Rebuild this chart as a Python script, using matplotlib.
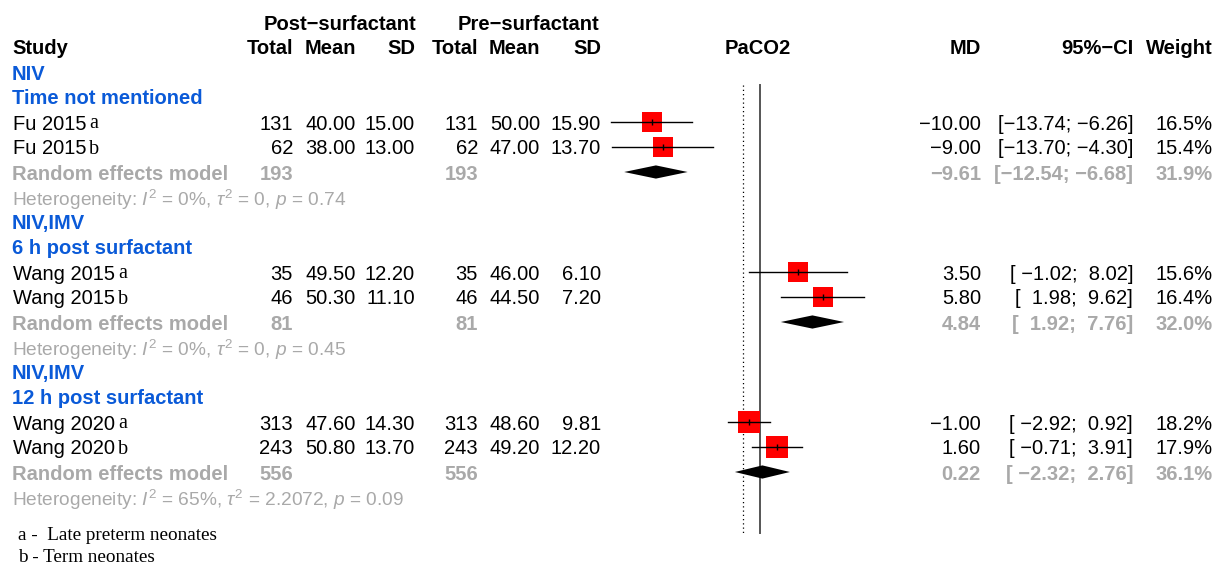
import matplotlib
matplotlib.use("Agg")
import matplotlib.pyplot as plt
from matplotlib.patches import Polygon

# ---------------- data ----------------
study_names = ["Fu 2015", "Fu 2015", "Wang 2015", "Wang 2015", "Wang 2020", "Wang 2020"]
study_marks = ["a", "b", "a", "b", "a", "b"]
study_group = [0, 0, 1, 1, 2, 2]
n_post = [131, 62, 35, 46, 313, 243]
mean_post = [40.00, 38.00, 49.50, 50.30, 47.60, 50.80]
sd_post = [15.00, 13.00, 12.20, 11.10, 14.30, 13.70]
n_pre = [131, 62, 35, 46, 313, 243]
mean_pre = [50.00, 47.00, 46.00, 44.50, 48.60, 49.20]
sd_pre = [15.90, 13.70, 6.10, 7.20, 9.81, 12.20]
md = [-10.00, -9.00, 3.50, 5.80, -1.00, 1.60]
ci_lo = [-13.74, -13.70, -1.02, 1.98, -2.92, -0.71]
ci_hi = [-6.26, -4.30, 8.02, 9.62, 0.92, 3.91]
weight = [16.5, 15.4, 15.6, 16.4, 18.2, 17.9]

group_label1 = ["NIV", "NIV,IMV", "NIV,IMV"]
group_label2 = ["Time not mentioned", "6 h post surfactant", "12 h post surfactant"]
re_total_post = [193, 81, 556]
re_total_pre = [193, 81, 556]
re_md = [-9.61, 4.84, 0.22]
re_lo = [-12.54, 1.92, -2.32]
re_hi = [-6.68, 7.76, 2.76]
re_weight = [31.9, 32.0, 36.1]
het_i2 = ["0%", "0%", "65%"]
het_tau2 = ["0", "0", "2.2072"]
het_p = ["0.74", "0.45", "0.09"]
overall_md = -1.54

footnotes = ["a -  Late preterm neonates", "b - Term neonates"]

# ---------------- style ----------------
SANS = "Liberation Sans"
SERIF = "Liberation Serif"
plt.rcParams["font.family"] = [SANS, "DejaVu Sans"]
plt.rcParams["mathtext.fontset"] = "custom"
plt.rcParams["mathtext.rm"] = SANS
plt.rcParams["mathtext.it"] = SANS + ":italic"
FS = 14.5
FS_HET = 13.8
FS_FOOT = 13.8
BLUE = "#0a5ad8"
GRAY = "#a9a9a9"

W, H = 1221, 568
fig = plt.figure(figsize=(W / 100, H / 100), dpi=100)
ax = fig.add_axes([0, 0, 1, 1])
ax.set_xlim(0, W)
ax.set_ylim(H, 0)
ax.axis("off")

# forest panel: x in MD units
PX_PER_UNIT = 10.83
ZERO_PX = 760
F_LEFT, F_RIGHT = 600, 900
axf = fig.add_axes([F_LEFT / W, 0, (F_RIGHT - F_LEFT) / W, 1])
axf.set_xlim((F_LEFT - ZERO_PX) / PX_PER_UNIT, (F_RIGHT - ZERO_PX) / PX_PER_UNIT)
axf.set_ylim(H, 0)
axf.axis("off")
axf.patch.set_alpha(0)

ROW0 = 22
STEP = 25


def row_y(i):
    return ROW0 + STEP * i


# columns (right edges)
X_STUDY = 12
X_NPOST, X_MPOST, X_SPOST = 293, 356, 415
X_NPRE, X_MPRE, X_SPRE = 478, 540, 601
X_MD, X_CI, X_W = 981, 1133, 1213
X_PLOT_LABEL = 758


def fnum(v, d=2):
    return f"{v:.{d}f}".replace("-", "\u2212")


def txt(x, y, s, ha="right", bold=False, color="black", size=FS, family=None):
    return ax.text(x, y, s, ha=ha, va="center_baseline", fontsize=size,
                   fontweight="bold" if bold else "normal", color=color,
                   family=family if family else [SANS, "DejaVu Sans"])


# CI string formatting (pad like meta)
lo_all = [fnum(v) for v in ci_lo + re_lo]
hi_all = [fnum(v) for v in ci_hi + re_hi]
wlo = max(len(s) for s in lo_all)
whi = max(len(s) for s in hi_all)


def ci_str(lo, hi):
    return "[" + fnum(lo).rjust(wlo) + "; " + fnum(hi).rjust(whi) + "]"


# headers
txt(340, row_y(0), "Post\u2212surfactant", ha="center", bold=True)
txt(528, row_y(0), "Pre\u2212surfactant", ha="center", bold=True)
txt(X_STUDY, row_y(1), "Study", ha="left", bold=True)
for x, s in [(X_NPOST, "Total"), (X_MPOST, "Mean"), (X_SPOST, "SD"),
             (X_NPRE, "Total"), (X_MPRE, "Mean"), (X_SPRE, "SD"),
             (X_MD, "MD"), (X_CI, "95%\u2212CI"), (X_W, "Weight")]:
    txt(x, row_y(1), s, bold=True)
txt(X_PLOT_LABEL, row_y(1), "PaCO2", ha="center", bold=True)

# body
r = 2
for g in range(len(group_label1)):
    txt(X_STUDY, row_y(r), group_label1[g], ha="left", bold=True, color=BLUE)
    r += 1
    txt(X_STUDY, row_y(r), group_label2[g], ha="left", bold=True, color=BLUE)
    r += 1
    for k in [i for i, gg in enumerate(study_group) if gg == g]:
        y = row_y(r)
        t = txt(X_STUDY + 1, y, study_names[k], ha="left")
        ax.annotate(study_marks[k], xy=(1, 0.5), xycoords=t, xytext=(2.0, 0),
                    textcoords="offset points", ha="left", va="center",
                    fontsize=FS, family=SERIF)
        txt(X_NPOST, y, str(n_post[k]))
        txt(X_MPOST, y, fnum(mean_post[k]))
        txt(X_SPOST, y, fnum(sd_post[k]))
        txt(X_NPRE, y, str(n_pre[k]))
        txt(X_MPRE, y, fnum(mean_pre[k]))
        txt(X_SPRE, y, fnum(sd_pre[k]))
        txt(X_MD, y, fnum(md[k]))
        txt(X_CI, y, ci_str(ci_lo[k], ci_hi[k]))
        txt(X_W, y, f"{weight[k]:.1f}%")
        # forest marks
        axf.scatter([md[k]], [y], s=weight[k] * 13, marker="s", color="#ff0000",
                    linewidths=0, zorder=3)
        axf.plot([ci_lo[k], ci_hi[k]], [y, y], color="black", lw=1.0, zorder=4)
        axf.plot([md[k]], [y], marker="|", markersize=5, color="black",
                 markeredgewidth=1.0, zorder=5)
        r += 1
    y = row_y(r)
    txt(X_STUDY, y, "Random effects model", ha="left", bold=True, color=GRAY)
    txt(X_NPOST, y, str(re_total_post[g]), bold=True, color=GRAY)
    txt(X_NPRE, y, str(re_total_pre[g]), bold=True, color=GRAY)
    txt(X_MD, y, fnum(re_md[g]), bold=True, color=GRAY)
    txt(X_CI, y, ci_str(re_lo[g], re_hi[g]), bold=True, color=GRAY)
    txt(X_W, y, f"{re_weight[g]:.1f}%", bold=True, color=GRAY)
    hh = 6.6
    axf.add_patch(Polygon([(re_lo[g], y), (re_md[g], y - hh), (re_hi[g], y),
                           (re_md[g], y + hh)], closed=True, color="black",
                          lw=0, zorder=4))
    r += 1
    txt(X_STUDY, row_y(r),
        r"Heterogeneity: $\mathit{I}^2$ = " + het_i2[g]
        + r", $\tau^2$ = " + het_tau2[g] + r", $\mathit{p}$ = " + het_p[g],
        ha="left", color=GRAY, size=FS_HET)
    r += 1

# reference lines
LINE_TOP, LINE_BOT = 85, 533
axf.plot([0, 0], [LINE_TOP, LINE_BOT], color="#555555", lw=1.4, zorder=1)
axf.plot([overall_md, overall_md], [LINE_TOP, LINE_BOT], color="black", lw=0.9,
         ls=(0, (1, 2.4)), zorder=1)

# footnotes
for i, s in enumerate(footnotes):
    ax.text(18, 536 + 21 * i, s, ha="left", va="center", fontsize=FS_FOOT,
            family=SERIF, color="black")

fig.savefig("out.png", dpi=100)
